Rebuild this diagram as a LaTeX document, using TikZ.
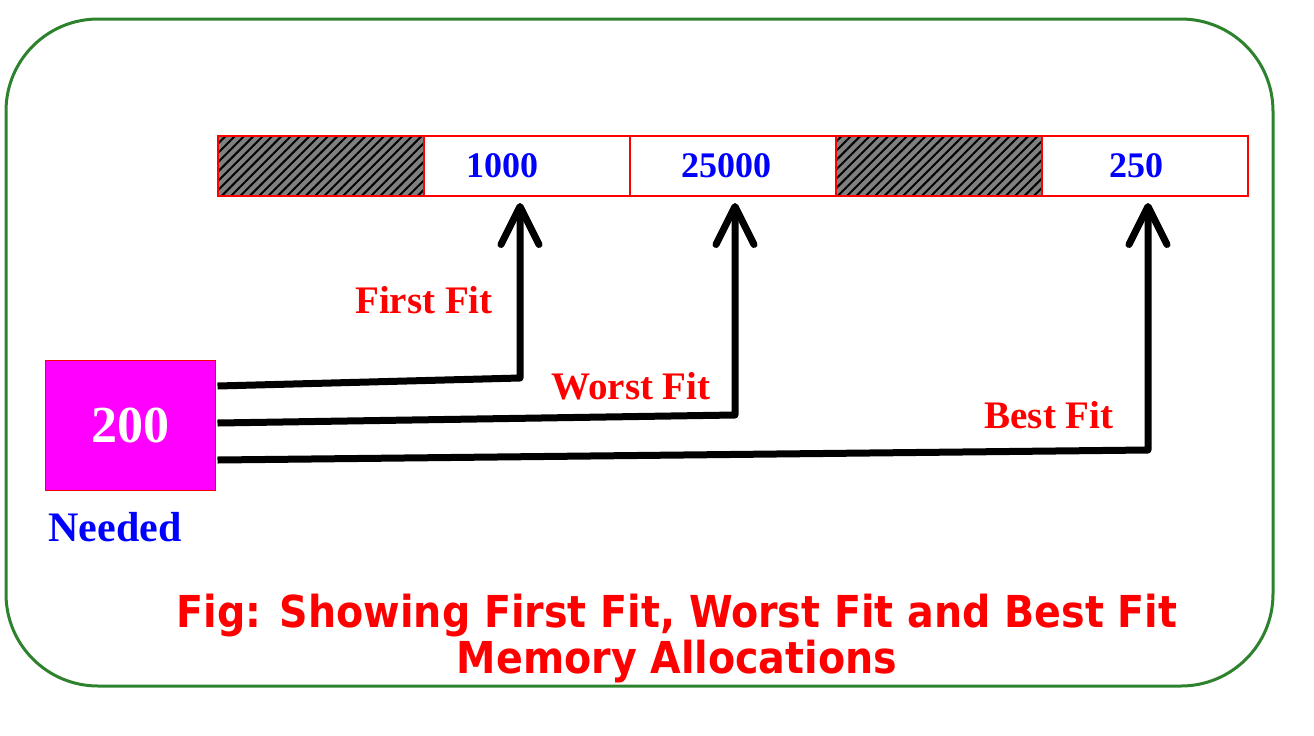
\documentclass[tikz,border=0pt]{standalone}
\usepackage{fontspec}
\setmainfont{Liberation Serif}
\newfontfamily\capfont{DejaVu Sans Condensed}
\usetikzlibrary{positioning,calc,arrows.meta,patterns.meta}
\definecolor{frame}{RGB}{45,130,45}
\definecolor{boxpink}{RGB}{255,0,255}
\tikzset{
cell/.style={draw=red,line width=1pt,minimum width=103pt,minimum height=30pt,inner sep=0pt,outer sep=0pt,text=blue,font=\bfseries\fontsize{18}{20}\selectfont},
used/.style={cell,pattern={Lines[angle=45,distance=3.3pt,line width=1pt]},preaction={fill=gray}},
fitarrow/.style={line width=3.5pt,line join=round,-{Straight Barb[length=19pt,width=19pt,round]}},
fitlabel/.style={text=red,font=\bfseries\fontsize{19.5}{21}\selectfont}
}
\begin{document}
\begin{tikzpicture}[x=0.5pt,y=-0.5pt]
\useasboundingbox (0,0) rectangle (1314,735);
\draw[frame,line width=1.5pt,rounded corners=46pt] (6,19) rectangle (1273,686);
\node[used] (h1) at (321,166) {};
\node[cell,right=0pt of h1] (c1000) {\hspace*{-25pt}1000};
\node[cell,right=0pt of c1000] (c25000) {\hspace*{-7pt}25000};
\node[used,right=0pt of c25000] (h2) {};
\node[cell,right=0pt of h2] (c250) {\hspace*{-9pt}250};
\node[draw=red,fill=boxpink,line width=0.5pt,minimum width=85pt,minimum height=65pt,text=white,font=\bfseries\fontsize{26}{28}\selectfont] (need) at (130,425) {200};
\node[text=blue,font=\bfseries\fontsize{21}{23}\selectfont] (needlbl) at (115,527) {Needed};
\draw[fitarrow] ($(need.east)+(2,-39)$) -- ([xshift=-3.5pt]c1000.south |- 0,378) -- ([xshift=-3.5pt,yshift=-3.5pt]c1000.south);
\draw[fitarrow] ($(need.east)+(2,-2)$) -- ([xshift=1pt]c25000.south |- 0,415) -- ([xshift=1pt,yshift=-3.5pt]c25000.south);
\draw[fitarrow] ($(need.east)+(2,35)$) -- ([xshift=1.5pt]c250.south |- 0,450) -- ([xshift=1.5pt,yshift=-3.5pt]c250.south);
\node[fitlabel] (ff) at (424,300) {First Fit};
\node[fitlabel] (wf) at (631,386) {Worst Fit};
\node[fitlabel] (bf) at (1049,415) {Best Fit};
\node[text=red,align=center,font=\capfont\bfseries\fontsize{22}{23}\selectfont] (cap) at (677,639) {Fig: Showing First Fit, Worst Fit and Best Fit\\Memory Allocations};
\end{tikzpicture}
\end{document}
